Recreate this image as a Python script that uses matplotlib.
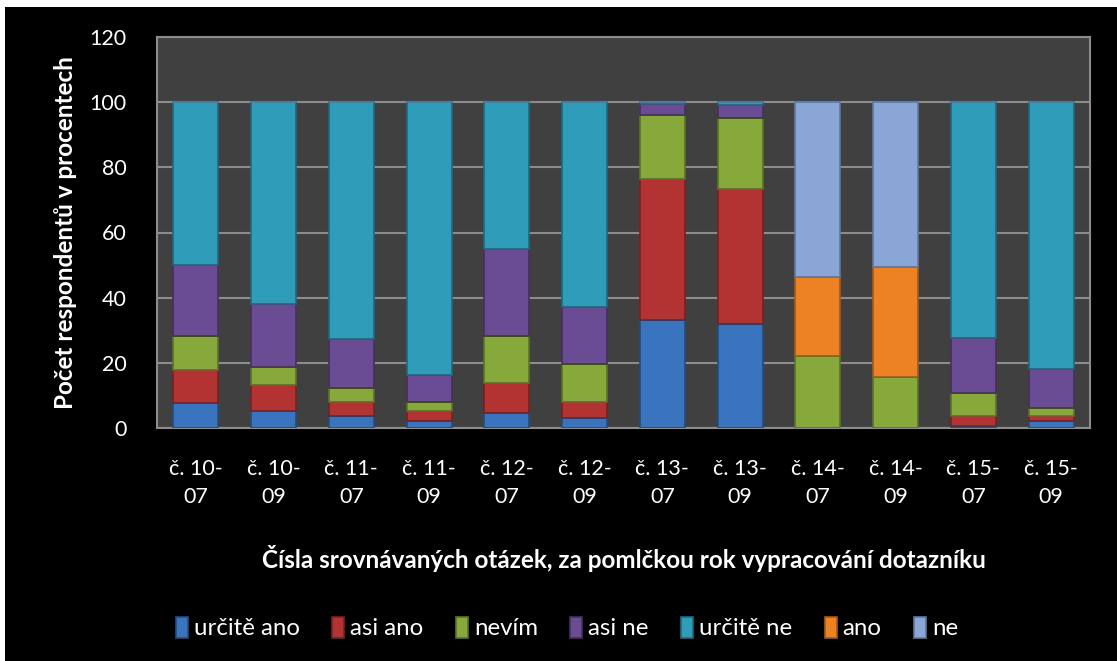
import matplotlib
matplotlib.use("Agg")
import matplotlib.pyplot as plt
import numpy as np

categories = ["č. 10-\n07", "č. 10-\n09", "č. 11-\n07", "č. 11-\n09", "č. 12-\n07", "č. 12-\n09",
              "č. 13-\n07", "č. 13-\n09", "č. 14-\n07", "č. 14-\n09", "č. 15-\n07", "č. 15-\n09"]
urcite_ano = [7.6, 5.1, 3.8, 2.1, 4.5, 3.2, 33.1, 31.9, 0, 0, 0.7, 2.1]
asi_ano    = [10.2, 8.1, 4.3, 3.2, 9.2, 4.9, 43.2, 41.3, 0, 0, 3.1, 1.7]
nevim      = [10.4, 5.4, 4.3, 2.8, 14.5, 11.5, 19.9, 22.0, 22.1, 15.7, 7.0, 2.4]
asi_ne     = [21.8, 19.6, 14.8, 8.2, 26.8, 17.6, 3.1, 3.9, 0, 0, 16.9, 11.9]
urcite_ne  = [50.0, 61.8, 72.8, 83.7, 45.0, 62.8, 0.7, 0.9, 0, 0, 72.3, 81.9]
ano        = [0, 0, 0, 0, 0, 0, 0, 0, 24.1, 33.8, 0, 0]
ne         = [0, 0, 0, 0, 0, 0, 0, 0, 53.8, 50.5, 0, 0]

series_names = ["určitě ano", "asi ano", "nevím", "asi ne", "určitě ne", "ano", "ne"]
series = [urcite_ano, asi_ano, nevim, asi_ne, urcite_ne, ano, ne]
colors = ["#3A74BE", "#B33333", "#87A83B", "#6A4C94", "#2F9DBA", "#EC8223", "#8AA6D6"]
edges  = ["#234D80", "#7A2020", "#5A7426", "#46305F", "#1E6A80", "#A85814", "#5D789F"]

yticks = [0, 20, 40, 60, 80, 100, 120]

plt.rcParams['font.family'] = ['Lato', 'DejaVu Sans']

fig = plt.figure(figsize=(11.17, 6.61), dpi=100)
fig.patch.set_facecolor("white")
bg = plt.Rectangle((5/1117, 0), 1, 1 - 7/661, transform=fig.transFigure,
                   facecolor="black", edgecolor="none", zorder=-10)
fig.patches.append(bg)

ax = fig.add_axes([157/1117, 1 - 428/661, (1090 - 157)/1117, (428 - 37)/661])
ax.set_facecolor("#404040")

x = np.arange(len(categories))
bottom = np.zeros(len(categories))
handles = []
for name, vals, c, ec in zip(series_names, series, colors, edges):
    v = np.array(vals, dtype=float)
    h = ax.bar(x, v, width=0.58, bottom=bottom, color=c, edgecolor=ec, linewidth=1.2,
               label=name, zorder=3)
    handles.append(h)
    bottom += v

ax.set_xlim(-0.5, len(categories) - 0.5)
ax.set_ylim(0, 120)
ax.set_yticks(yticks)
ax.set_yticklabels([str(t) for t in yticks])
ax.set_xticks(x)
ax.set_xticklabels(categories, linespacing=1.5)
ax.tick_params(axis="both", colors="white", labelsize=15.5, length=0)
ax.tick_params(axis="x", pad=22)
ax.tick_params(axis="y", pad=22)
ax.yaxis.grid(True, color="#8C8C8C", linewidth=1.5, zorder=0)
ax.set_axisbelow(True)
for s in ax.spines.values():
    s.set_color("#8C8C8C")
    s.set_linewidth(1.5)

ax.set_ylabel("Počet respondentů v procentech", color="white", fontsize=17.5,
              fontweight="bold", labelpad=9)
ax.set_xlabel("Čísla srovnávaných otázek, za pomlčkou rok vypracování dotazníku",
              color="white", fontsize=17.5, fontweight="bold", labelpad=28)

leg = fig.legend(handles=handles, labels=series_names, loc="center",
                 bbox_to_anchor=(567/1117, 1 - 628/661), ncol=7, frameon=False,
                 fontsize=17.3, handlelength=0.5, handleheight=1.0, handletextpad=0.25,
                 columnspacing=1.35)
for t in leg.get_texts():
    t.set_color("white")

fig.savefig("out.png", dpi=100, facecolor=fig.get_facecolor())
